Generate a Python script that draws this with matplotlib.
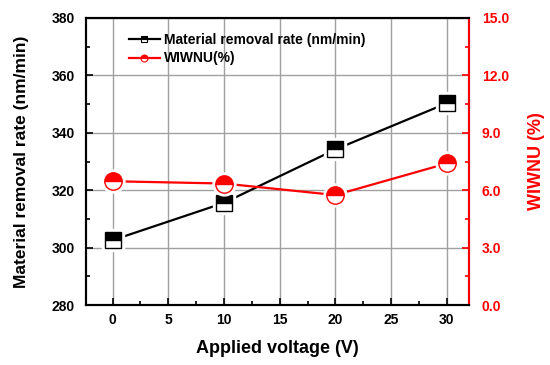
import numpy as np
import matplotlib.pyplot as plt
from matplotlib.lines import Line2D
from matplotlib.ticker import MultipleLocator, FormatStrFormatter

plt.rcParams['font.family'] = ['Liberation Sans', 'DejaVu Sans']
plt.rcParams['font.weight'] = 'bold'

# Data
voltage = [0, 10, 20, 30]
mrr = [302.6, 315.6, 334.2, 350.3]        # nm/min
wiwnu = [6.47, 6.35, 5.75, 7.4]           # %

fig = plt.figure(figsize=(5.5, 3.65), dpi=100)
ax1 = fig.add_axes([0.156, 0.164, 0.697, 0.787])
ax2 = ax1.twinx()

# Lines first, then white halo, then half-filled markers (Origin-like gaps)
ax1.plot(voltage, mrr, color='black', lw=1.6, zorder=2)
ax1.plot(voltage, mrr, ls='none', marker='s', ms=16, mfc='white', mec='white', zorder=3)
ax1.plot(voltage, mrr, ls='none', marker='s', ms=12, fillstyle='top',
         mfc='black', mfcalt='white', mec='black', mew=1.0, zorder=4)

ax2.plot(voltage, wiwnu, color='red', lw=1.6, zorder=2)
ax2.plot(voltage, wiwnu, ls='none', marker='o', ms=16.5, mfc='white', mec='white', zorder=3)
ax2.plot(voltage, wiwnu, ls='none', marker='o', ms=12.5, fillstyle='top',
         mfc='red', mfcalt='white', mec='red', mew=1.0, zorder=4)

ax1.set_xlim(-2.4, 32)
ax1.set_ylim(280, 380)
ax2.set_ylim(0, 15)

ax1.xaxis.set_major_locator(MultipleLocator(5))
ax1.xaxis.set_minor_locator(MultipleLocator(2.5))
ax1.yaxis.set_major_locator(MultipleLocator(20))
ax1.yaxis.set_minor_locator(MultipleLocator(10))
ax2.yaxis.set_major_locator(MultipleLocator(3))
ax2.yaxis.set_minor_locator(MultipleLocator(1.5))
ax2.yaxis.set_major_formatter(FormatStrFormatter('%.1f'))

ax1.grid(True, which='major', color='#a0a0a0', lw=1.0)
ax1.set_axisbelow(True)

ax1.tick_params(which='both', direction='in', labelsize=10, width=1.2)
ax1.tick_params(which='major', length=5)
ax1.tick_params(which='minor', length=3)
ax1.tick_params(axis='y', right=False, pad=8)
ax1.tick_params(axis='x', pad=6)
ax2.tick_params(which='both', direction='in', labelsize=10, width=1.2,
                colors='red', pad=9)
ax2.tick_params(which='major', length=5)
ax2.tick_params(which='minor', length=3)

for sp in ax1.spines.values():
    sp.set_linewidth(1.5)
for sp in ax2.spines.values():
    sp.set_linewidth(1.5)
ax2.spines['right'].set_color('red')

ax1.set_xlabel('Applied voltage (V)', fontsize=13, fontweight='bold', labelpad=9)
ax1.set_ylabel('Material removal rate (nm/min)', fontsize=12.5, fontweight='bold', labelpad=16)
ax2.set_ylabel('WIWNU (%)', fontsize=13, fontweight='bold', color='red', labelpad=14)

handles = [
    Line2D([], [], color='black', lw=1.6, marker='s', ms=5, fillstyle='top',
           mfc='black', mfcalt='white', mec='black', mew=0.8),
    Line2D([], [], color='red', lw=1.6, marker='o', ms=5, fillstyle='top',
           mfc='red', mfcalt='white', mec='red', mew=0.8),
]
leg = ax1.legend(handles, ['Material removal rate (nm/min)', 'WIWNU(%)'],
                 loc='upper left', bbox_to_anchor=(0.08, 0.99), frameon=False,
                 prop={'size': 10, 'weight': 'bold'}, handlelength=2.2,
                 handletextpad=0.3, labelspacing=0.3)
leg.set_zorder(10)

fig.savefig('out.png', dpi=100)
